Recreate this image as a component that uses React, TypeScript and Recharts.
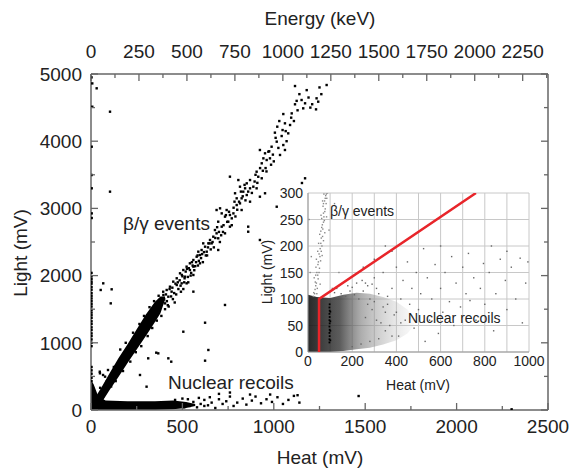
import React from "react";
import { ComposedChart, Scatter, Area, XAxis, YAxis, CartesianGrid } from "recharts";

type P = [number, number];
type Band = [number, number, number];

// main plot: Heat (mV) vs Light (mV), top axis Energy (keV)
const heatTicks = [0, 250, 500, 750, 1000, 1250, 1500, 1750, 2000, 2250, 2500];
const heatLabels = [0, 500, 1000, 1500, 2000, 2500];
const lightTicks = [0, 500, 1000, 1500, 2000, 2500, 3000, 3500, 4000, 4500, 5000];
const lightLabels = [0, 1000, 2000, 3000, 4000, 5000];
const energyTicks = [0, 125, 250, 375, 500, 625, 750, 875, 1000, 1125, 1250, 1375, 1500, 1625, 1750, 1875, 2000, 2125, 2250, 2375];
const energyLabels = [0, 250, 500, 750, 1000, 1250, 1500, 1750, 2000, 2250];

// dense parts of the two populations: [heat, light low, light high]
const betaBand: Band[] = [
  [20, 0, 170], [60, 120, 350], [100, 290, 540], [150, 490, 770], [200, 700, 980],
  [250, 900, 1200], [300, 1100, 1420], [350, 1310, 1610], [380, 1440, 1690], [405, 1640, 1690],
];
const recoilBand: Band[] = [
  [0, 0, 450], [15, 0, 380], [40, 0, 200], [80, 0, 140], [200, 0, 130],
  [350, 0, 130], [450, 10, 140], [520, 30, 120], [570, 60, 90],
];

const betaPoints: P[] = [
  [1289, 4836], [1116, 4821], [1152, 4613], [1171, 4564], [1161, 4489], [1234, 4638], [1243, 4588], [1231, 4474],
  [1116, 4549], [1052, 4404], [1098, 4414], [1061, 4266], [1089, 4241], [1019, 4216], [1006, 4127], [1048, 4166],
  [1079, 4117], [1043, 4077], [1016, 3993], [1052, 3943], [1061, 3869], [1034, 3795], [988, 3918], [979, 3745],
  [924, 3869], [952, 3820], [970, 3844], [943, 3745], [934, 3671], [961, 3720], [906, 3546], [915, 3471],
  [934, 3448], [952, 3225], [870, 3422], [852, 3373], [843, 3299], [815, 3323], [788, 3225], [797, 3150],
  [760, 3472], [806, 3422], [852, 3199], [870, 3299], [833, 3249], [824, 3150], [888, 3323], [906, 3299],
  [924, 3174], [870, 3100], [706, 3001], [715, 2926], [733, 2877], [770, 2852], [751, 2802], [696, 2802],
  [715, 2728], [760, 2728], [733, 2629], [696, 2555], [678, 2678], [669, 2579], [651, 2530], [642, 2480],
  [624, 2430], [605, 2381], [596, 2306], [578, 2281], [560, 2232], [541, 2183], [523, 2133], [505, 2083],
  [487, 2034], [469, 1960], [450, 1910], [432, 1835], [414, 1786], [396, 1711], [377, 1637], [687, 2976],
  [742, 2976], [760, 2902], [779, 2926], [797, 3050], [815, 3075], [824, 2976], [687, 2629], [660, 2480],
  [633, 2356], [614, 2480], [587, 2356], [596, 2183], [560, 2133], [541, 2083], [514, 1984], [496, 1885],
  [469, 1860], [441, 1761], [423, 1686], [405, 1587], [523, 1885], [560, 2009], [860, 2728], [860, 2653],
  [924, 2530], [1016, 3025], [1171, 3448], [733, 1563], [560, 1761], [696, 2381], [400, 1650], [410, 1720],
  [420, 1560], [438, 1690], [445, 1820], [455, 1740], [462, 1880], [478, 1800], [485, 1930], [492, 1760],
  [500, 1990], [510, 1900], [518, 2060], [530, 1980], [535, 2110], [548, 2040], [552, 2200], [570, 2140],
  [583, 2300], [590, 2220], [602, 2260], [618, 2350], [628, 2300], [640, 2420], [655, 2390], [665, 2500],
  [680, 2560], [700, 2650], [712, 2600], [725, 2750], [745, 2800], [755, 2950], [780, 3010], [790, 2880],
  [810, 3100], [830, 3180], [845, 3120], [880, 3230], [895, 3400], [910, 3380], [940, 3560], [955, 3600],
  [985, 3650], [995, 3800], [1025, 3900], [1070, 4000], [1030, 4300], [1110, 4300], [1130, 4460], [1140, 4700],
  [1200, 4500], [1190, 4650], [1260, 4700],
  [50, 330], [70, 210], [85, 420], [110, 350], [125, 640], [135, 430], [160, 900], [175, 580], [190, 1000],
  [215, 720], [230, 1150], [245, 860], [265, 1280], [275, 950], [290, 1400], [310, 1100], [320, 1530],
  [335, 1220], [345, 1620], [360, 1330], [370, 1700], [385, 1400], [395, 1760], [405, 1500], [415, 1620],
  [425, 1540], [430, 1800], [448, 1650], [458, 1600], [466, 1720], [475, 1900], [490, 1850], [497, 2010],
  [505, 1800], [512, 1960], [525, 2100], [532, 1900], [545, 2000], [556, 2150], [565, 2080], [575, 2200],
  [585, 2150], [608, 2320], [612, 2200], [635, 2300], [648, 2480], [672, 2420], [690, 2720], [705, 2500],
  [722, 2650], [738, 2900], [770, 2750], [785, 3100], [800, 2980], [820, 3250], [840, 3350], [860, 3250],
  [900, 3500], [925, 3600], [960, 3550], [975, 3850], [1000, 3700], [1010, 4050], [1065, 4150], [1095, 4350],
  [1125, 4600], [1180, 4760], [1210, 4550], [1250, 4800],
];
const recoilPoints: P[] = [
  [460, 150], [480, 60], [500, 170], [520, 90], [540, 60], [560, 120], [580, 40], [600, 90], [620, 150],
  [640, 70], [660, 110], [680, 30], [700, 160], [720, 90], [740, 130], [760, 200], [780, 60], [800, 110],
  [830, 170], [850, 80], [880, 140], [900, 200], [930, 100], [960, 160], [990, 120], [1020, 190], [1050, 90],
  [1080, 150], [1110, 210], [1140, 110], [1130, 220], [980, 230], [870, 230], [760, 260], [700, 240],
  [590, 180], [620, 60], [650, 190], [530, 160], [510, 40], [1464, 208], [2301, 10],
];
const strayPoints: P[] = [
  [3, 4950], [7, 4860], [31, 4787], [7, 4513], [104, 4439], [104, 3249], [4, 3918], [4, 3497], [4, 3299],
  [4, 2926], [4, 2857], [3, 2040], [3, 1990], [3, 1950], [3, 1910], [3, 1880], [3, 1830], [3, 1790],
  [3, 1740], [3, 1700], [3, 1660], [3, 1620], [3, 1580], [3, 1540], [3, 1490], [3, 1450], [3, 1410],
  [3, 1370], [3, 1320], [3, 1280], [3, 1230], [3, 1190], [3, 1140], [3, 1100], [3, 1050], [3, 1000],
  [3, 950], [3, 640], [3, 590], [3, 540], [3, 480], [3, 430],
  [67, 1885], [53, 1786], [113, 1796], [108, 1587], [624, 1299], [505, 1165], [642, 893], [624, 734],
  [423, 769], [368, 843], [313, 769], [304, 347], [268, 521], [49, 546], [77, 496], [48, 570], [93, 595],
  [66, 521], [439, 719], [357, 853], [1154, 3378],
];

// inset: zoom on low energies
const insetHeatTicks = [0, 100, 200, 300, 400, 500, 600, 700, 800, 900, 1000];
const insetHeatLabels = [0, 200, 400, 600, 800, 1000];
const insetLightTicks = [0, 50, 100, 150, 200, 250, 300];

const insetCloud: Band[] = [
  [0, 0, 108], [40, 0, 104], [100, 0, 102], [160, 2, 108], [220, 5, 112], [280, 8, 110],
  [340, 14, 104], [400, 22, 95], [450, 35, 80], [480, 50, 65],
];
const insetStreak: P[] = [
  [97, 18], [97, 24], [98, 30], [97, 36], [98, 42], [97, 48], [98, 54], [97, 60], [98, 66], [97, 72],
  [98, 78], [97, 84], [98, 90], [101, 22], [101, 40], [101, 58], [101, 76],
];
const insetBeta: P[] = [
  [30, 110], [35, 125], [28, 140], [40, 150], [45, 165], [38, 175], [50, 185], [55, 195], [48, 205], [60, 215],
  [58, 228], [65, 240], [62, 252], [70, 262], [68, 275], [75, 285], [80, 295], [72, 298], [85, 290], [42, 120],
  [33, 132], [52, 158], [57, 172], [44, 190], [63, 200], [53, 222], [67, 232], [74, 248], [59, 258], [78, 270],
  [82, 280], [66, 285], [88, 300], [24, 105], [46, 138], [36, 160], [64, 182], [70, 210], [76, 225], [84, 255],
  [10, 150], [15, 180], [110, 120], [140, 150], [5, 250], [95, 230], [120, 280], [26, 112], [32, 118],
  [38, 130], [44, 145], [50, 150], [47, 170], [54, 180], [60, 190], [58, 205], [66, 218], [62, 235], [70, 245],
  [72, 255], [76, 265], [70, 280], [78, 290], [83, 298], [40, 110], [55, 128], [35, 145],
];
const insetPoints: P[] = [
  [260, 130], [280, 100], [300, 140], [310, 60], [320, 110], [340, 150], [350, 40], [360, 90], [380, 120],
  [390, 70], [400, 160], [410, 30], [420, 100], [430, 135], [440, 60], [450, 170], [460, 90], [470, 120],
  [480, 45], [490, 150], [500, 80], [510, 110], [523, 195], [530, 20], [540, 140], [550, 60], [560, 100],
  [575, 165], [590, 35], [600, 120], [610, 75], [620, 150], [640, 95], [650, 180], [660, 50], [670, 130],
  [690, 85], [700, 160], [715, 110], [726, 186], [733, 97], [750, 140], [760, 60], [780, 120], [794, 167],
  [800, 90], [820, 150], [840, 40], [850, 110], [870, 175], [893, 135], [900, 80], [920, 160], [940, 100],
  [960, 177], [970, 55], [985, 130], [995, 170], [440, 210], [380, 190], [600, 200], [830, 200], [900, 190],
  [300, 175], [250, 160], [350, 200], [150, 110], [170, 105], [190, 115], [210, 108], [230, 100], [250, 115],
  [270, 90], [290, 80], [200, 10], [240, 15], [280, 20], [320, 25], [350, 75], [330, 55], [370, 50], [300, 95],
  [260, 65], [340, 85], [360, 105], [400, 75], [420, 55], [380, 30], [130, 120], [180, 125], [220, 130],
  [270, 125], [310, 120], [120, 112], [200, 122], [245, 135], [290, 128],
];
const cutLine: P[] = [[50, 0], [50, 100], [760, 300]];

const FONT = "'Liberation Sans', Arial, sans-serif";
const FRAME = "#666";
const INK = "#222";

const pts = (a: P[]) => a.map(([x, y]) => ({ x, y }));
const band = (a: Band[]) => a.map(([x, lo, hi]) => ({ x, r: [lo, hi] }));
const dot = (s: number, c: string) => (p: any) =>
  <rect x={p.cx - s / 2} y={p.cy - s / 2} width={s} height={s} fill={c} />;
const none = () => <g />;

// ticks point inward, labels only on the major values
function frameTick(side: string, labels: number[], margin: number) {
  return (p: any) => {
    const v = p.payload.value;
    const major = labels.includes(v);
    const len = major ? 7 : 4;
    const t = { fontFamily: FONT, fontSize: 19, fill: INK };
    if (side === "bottom") {
      const a = p.y - margin;
      return (
        <g>
          <line x1={p.x} x2={p.x} y1={a} y2={a - len} stroke={FRAME} strokeWidth={1.3} />
          {major && <text x={p.x} y={p.y} dy="0.72em" textAnchor="middle" {...t}>{v}</text>}
        </g>
      );
    }
    if (side === "top") {
      const a = p.y + margin;
      return (
        <g>
          <line x1={p.x} x2={p.x} y1={a} y2={a + len} stroke={FRAME} strokeWidth={1.3} />
          {major && <text x={p.x} y={p.y} textAnchor="middle" {...t}>{v}</text>}
        </g>
      );
    }
    if (side === "left") {
      const a = p.x + margin;
      return (
        <g>
          <line x1={a} x2={a + len} y1={p.y} y2={p.y} stroke={FRAME} strokeWidth={1.3} />
          {major && <text x={p.x} y={p.y} dy="0.36em" textAnchor="end" {...t}>{v}</text>}
        </g>
      );
    }
    return <line x1={p.x} x2={p.x - len} y1={p.y} y2={p.y} stroke={FRAME} strokeWidth={1.3} />;
  };
}

const insetXTick = (p: any) =>
  insetHeatLabels.includes(p.payload.value) ? (
    <text x={p.x} y={p.y} dy="0.72em" textAnchor="middle" fontFamily={FONT} fontSize={14} fill={INK}>
      {p.payload.value}
    </text>
  ) : <g />;
const insetYTick = (p: any) => (
  <text x={p.x} y={p.y} dy="0.36em" textAnchor="end" fontFamily={FONT} fontSize={14} fill={INK}>
    {p.payload.value}
  </text>
);

export default function App() {
  const axisLine = { stroke: FRAME, strokeWidth: 1.5 };
  return (
    <div style={{ position: "absolute", left: 0, top: 0, width: 571, height: 468, background: "#fff" }}>
      <div style={{ position: "absolute", left: 0, top: 0 }}>
        <ComposedChart width={571} height={468} margin={{ top: 0, right: 0, bottom: 0, left: 0 }}>
          <XAxis xAxisId="heat" dataKey="x" type="number" domain={[0, 2500]} allowDataOverflow
            ticks={heatTicks} interval={0} height={58} tickSize={0} tickMargin={9}
            tickLine={false} axisLine={axisLine} tick={frameTick("bottom", heatLabels, 9)} />
          <XAxis xAxisId="energy" dataKey="x" orientation="top" type="number" domain={[0, 2382]} allowDataOverflow
            ticks={energyTicks} interval={0} height={74} tickSize={0} tickMargin={16}
            tickLine={false} axisLine={axisLine} tick={frameTick("top", energyLabels, 16)} />
          <YAxis yAxisId="light" dataKey="y" type="number" domain={[0, 5000]} allowDataOverflow
            ticks={lightTicks} interval={0} width={91} tickSize={0} tickMargin={9}
            tickLine={false} axisLine={axisLine} tick={frameTick("left", lightLabels, 9)} />
          <YAxis yAxisId="right" dataKey="y" orientation="right" type="number" domain={[0, 5000]} allowDataOverflow
            ticks={lightTicks} interval={0} width={23} tickSize={0} tickMargin={0}
            tickLine={false} axisLine={axisLine} tick={frameTick("right", lightLabels, 0)} />
          <Area xAxisId="heat" yAxisId="light" data={band(recoilBand)} dataKey="r" type="linear"
            stroke="none" fill="#000" fillOpacity={1} dot={false} activeDot={false} isAnimationActive={false} />
          <Area xAxisId="heat" yAxisId="light" data={band(betaBand)} dataKey="r" type="linear"
            stroke="none" fill="#000" fillOpacity={1} dot={false} activeDot={false} isAnimationActive={false} />
          <Scatter xAxisId="heat" yAxisId="light" data={pts(betaPoints)} shape={dot(2.4, "#000")} isAnimationActive={false} />
          <Scatter xAxisId="heat" yAxisId="light" data={pts(recoilPoints)} shape={dot(2.4, "#000")} isAnimationActive={false} />
          <Scatter xAxisId="heat" yAxisId="light" data={pts(strayPoints)} shape={dot(2.4, "#000")} isAnimationActive={false} />
          {/* hidden anchor so the energy and right axes get drawn */}
          <Scatter xAxisId="energy" yAxisId="right" data={energyLabels.map((x) => ({ x, y: 0 }))}
            shape={none} isAnimationActive={false} />
        </ComposedChart>
      </div>

      <div style={{ position: "absolute", left: 255, top: 180 }}>
        <ComposedChart width={290} height={220} margin={{ top: 13, right: 16, bottom: 0, left: 0 }}>
          <defs>
            <linearGradient id="cloud" x1="0" y1="0" x2="1" y2="0">
              <stop offset="0" stopColor="#111" stopOpacity={0.9} />
              <stop offset="0.3" stopColor="#333" stopOpacity={0.8} />
              <stop offset="0.5" stopColor="#777" stopOpacity={0.6} />
              <stop offset="0.75" stopColor="#aaa" stopOpacity={0.4} />
              <stop offset="1" stopColor="#ccc" stopOpacity={0.1} />
            </linearGradient>
          </defs>
          <CartesianGrid stroke="#c8c8c8" strokeWidth={1} fill="#fff" fillOpacity={1} />
          <XAxis dataKey="x" type="number" domain={[0, 1000]} allowDataOverflow ticks={insetHeatTicks}
            interval={0} height={48} tickSize={0} tickMargin={4} tickLine={false}
            axisLine={{ stroke: "#999" }} tick={insetXTick} />
          <YAxis dataKey="y" type="number" domain={[0, 300]} allowDataOverflow ticks={insetLightTicks}
            interval={0} width={53} tickSize={0} tickMargin={5} tickLine={false}
            axisLine={{ stroke: "#999" }} tick={insetYTick} />
          <Area data={band(insetCloud)} dataKey="r" type="linear" stroke="none" fill="url(#cloud)"
            fillOpacity={1} dot={false} activeDot={false} isAnimationActive={false} />
          <Scatter data={pts(insetPoints)} shape={dot(1.4, "#666")} isAnimationActive={false} />
          <Scatter data={pts(insetBeta)} shape={dot(1.4, "#888")} isAnimationActive={false} />
          <Scatter data={pts(insetStreak)} shape={dot(1.8, "#000")} isAnimationActive={false} />
          <Scatter data={pts(cutLine)} shape={none} line={{ stroke: "#e8252a", strokeWidth: 2.5 }}
            lineType="joint" isAnimationActive={false} />
        </ComposedChart>
      </div>

      <svg width={571} height={468} style={{ position: "absolute", left: 0, top: 0, pointerEvents: "none" }}
        fontFamily={FONT} fill={INK}>
        <text x={320} y={18} fontSize={19} textAnchor="middle" dominantBaseline="central">Energy (keV)</text>
        <text x={320} y={457} fontSize={19} textAnchor="middle" dominantBaseline="central">Heat (mV)</text>
        <text x={20} y={253} fontSize={19} textAnchor="middle" dominantBaseline="central"
          transform="rotate(-90 20 253)">Light (mV)</text>
        <text x={123} y={230} fontSize={19}>β/γ events</text>
        <text x={168} y={389} fontSize={19}>Nuclear recoils</text>
        <text x={330} y={216} fontSize={14}>β/γ events</text>
        <text x={408} y={323} fontSize={14}>Nuclear recoils</text>
        <text x={418} y={385} fontSize={14} textAnchor="middle" dominantBaseline="central">Heat (mV)</text>
        <text x={267} y={272} fontSize={14} textAnchor="middle" dominantBaseline="central"
          transform="rotate(-90 267 272)">Light (mV)</text>
      </svg>
    </div>
  );
}
